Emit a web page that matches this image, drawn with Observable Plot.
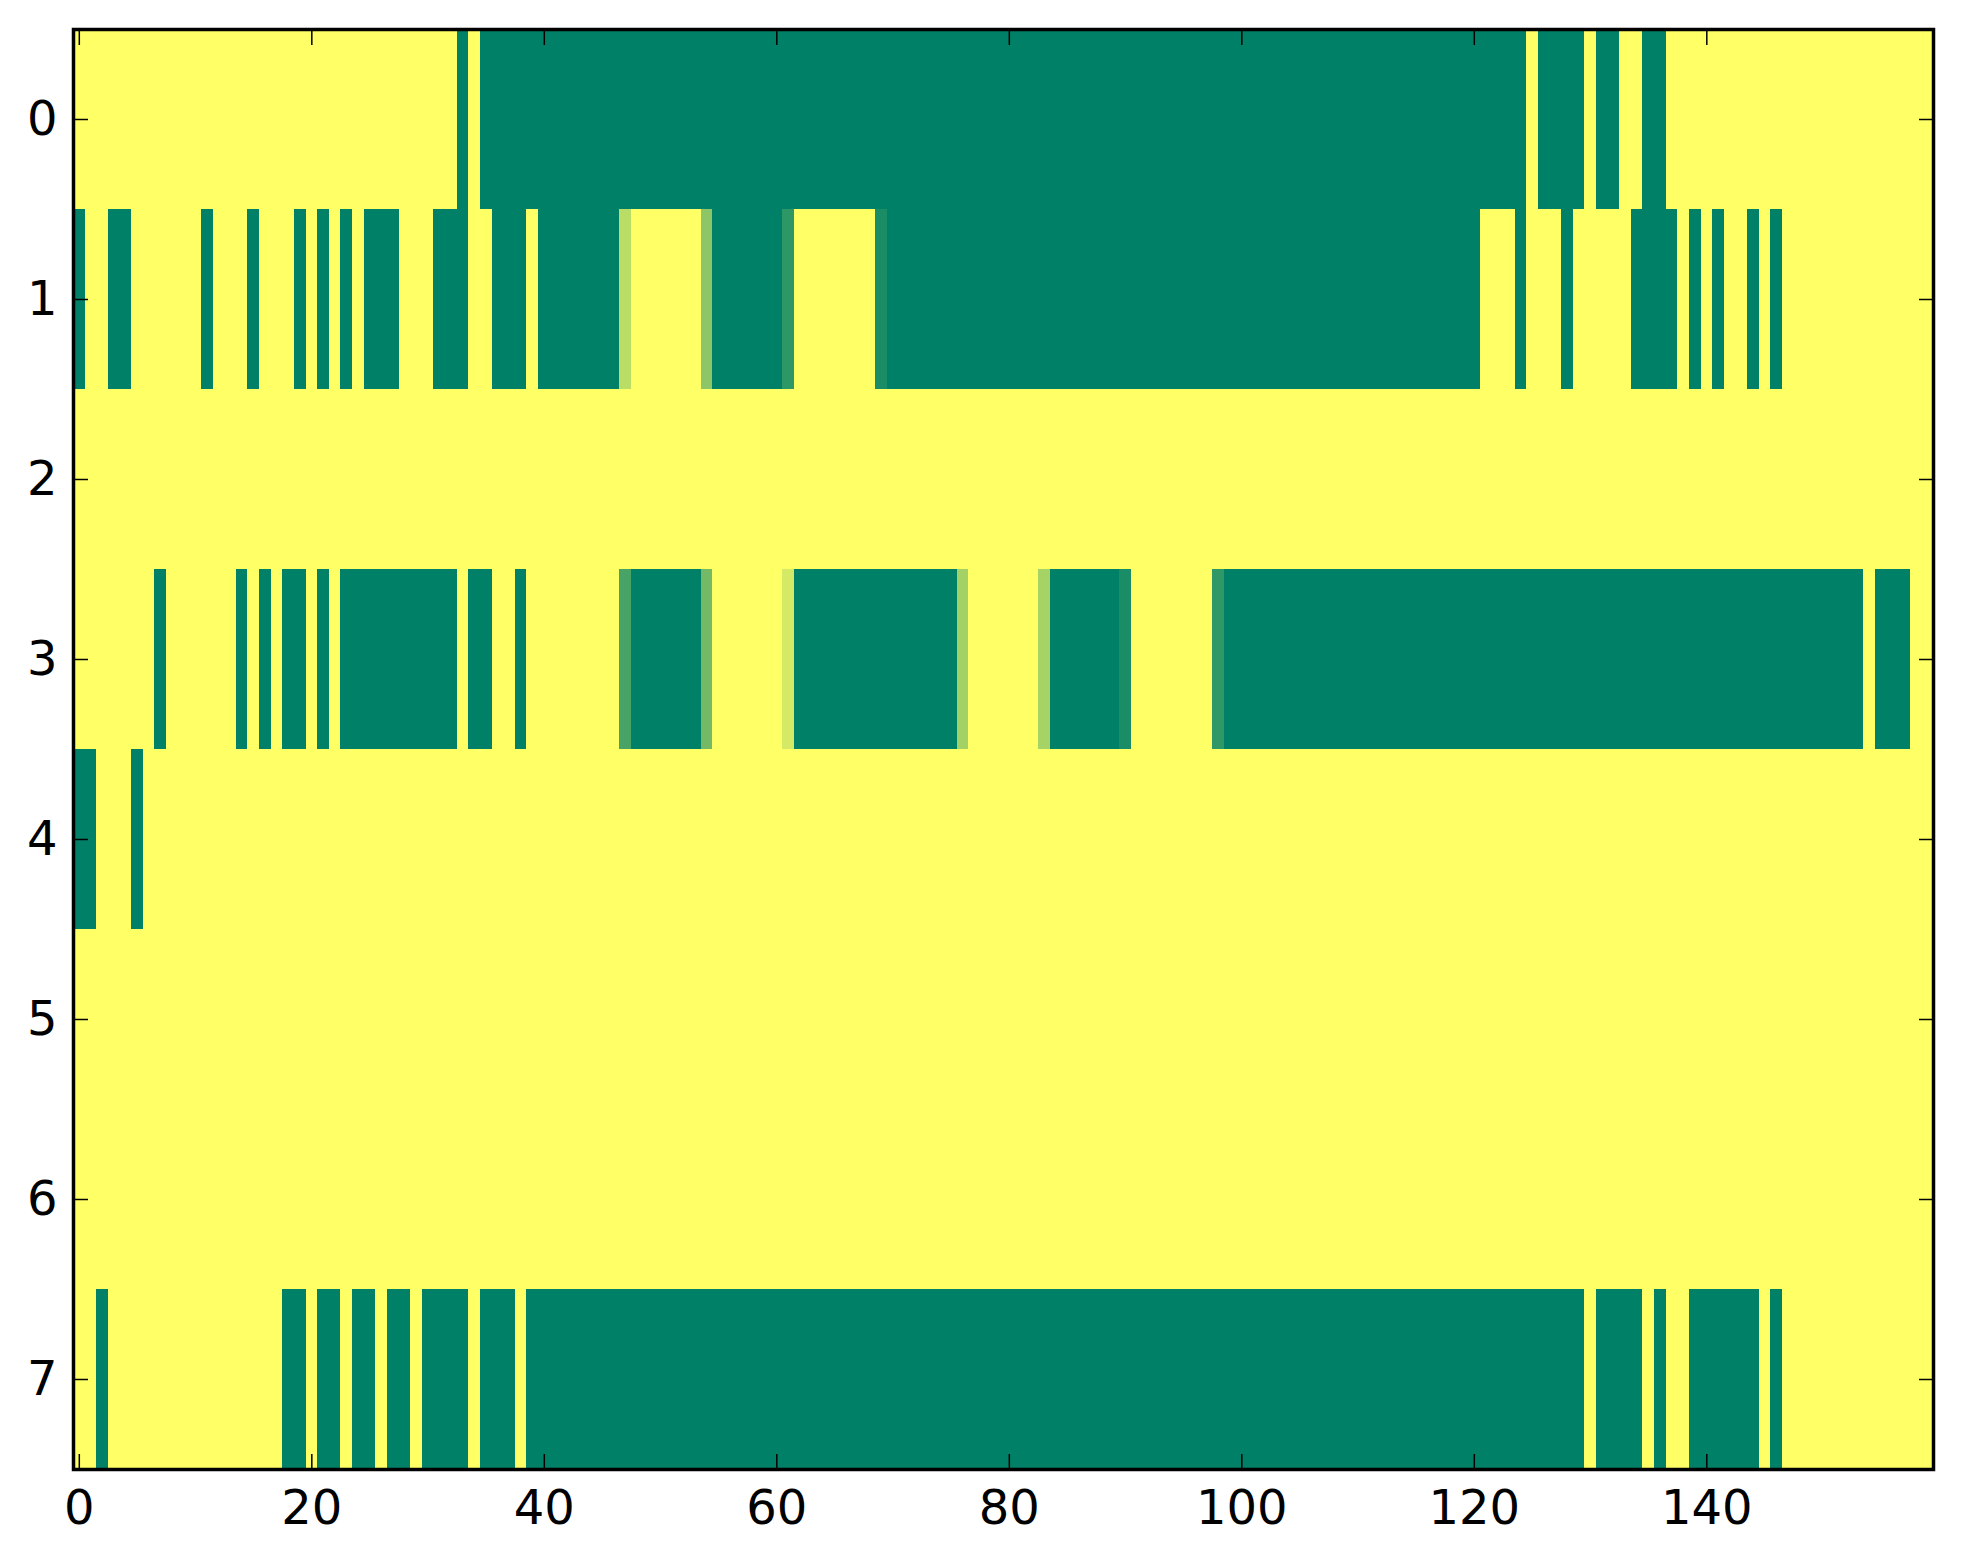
<!DOCTYPE html>
<html><head><meta charset="utf-8">
<script src="https://cdn.jsdelivr.net/npm/d3@7"></script>
<script src="https://cdn.jsdelivr.net/npm/@observablehq/plot@0.6"></script>
<style>html,body{margin:0;padding:0;background:#fff;} svg{display:block}</style>
</head><body><div id="chart"></div>
<script>
const nCols = 160;
const rowIds = [0, 1, 2, 3, 4, 5, 6, 7];
const xTicks = [0, 20, 40, 60, 80, 100, 120, 140];
const yTicks = [0, 1, 2, 3, 4, 5, 6, 7];

// Each row as runs of [value, count] read left to right (count sums to 160)
const row0 = [[1,33],[0,1],[1,1],[0,90],[1,1],[0,4],[1,1],[0,2],[1,2],[0,2],[1,23]];
const row1 = [[0,1],[1,2],[0,2],[1,6],[0,1],[1,3],[0,1],[1,3],[0,1],[1,1],[0,1],[1,1],[0,1],[1,1],
  [0,3],[1,3],[0,3],[1,2],[0,3],[1,1],[0,7],[0.73,1],[1,6],[0.55,1],[0,6],[0.18,1],[1,7],[0.1,1],
  [0,51],[1,3],[0,1],[1,3],[0,1],[1,5],[0,4],[1,1],[0,1],[1,1],[0,1],[1,2],[0,1],[1,1],[0,1],[1,13]];
const row2 = [[1,160]];
const row3 = [[1,7],[0,1],[1,6],[0,1],[1,1],[0,1],[1,1],[0,2],[1,1],[0,1],[1,1],[0,10],[1,1],[0,2],
  [1,2],[0,1],[1,8],[0.28,1],[0,6],[0.45,1],[1,6],[0.83,1],[0,14],[0.64,1],[1,6],[0.65,1],[0,6],
  [0.1,1],[1,7],[0.19,1],[0,55],[1,1],[0,3],[1,2]];
const row4 = [[0,2],[1,3],[0,1],[1,154]];
const row5 = [[1,160]];
const row6 = [[1,160]];
const row7 = [[1,2],[0,1],[1,15],[0,2],[1,1],[0,2],[1,1],[0,2],[1,1],[0,2],[1,1],[0,4],[1,1],[0,3],
  [1,1],[0,91],[1,1],[0,4],[1,1],[0,1],[1,2],[0,6],[1,1],[0,1],[1,13]];
const rows = [row0, row1, row2, row3, row4, row5, row6, row7];

const cells = [];
rows.forEach((runs, r) => {
  let c = 0;
  for (const [v, n] of runs) for (let k = 0; k < n; k++) cells.push({row: rowIds[r], col: c++, value: v});
});

const tickStyle = {tickSize: -15, fill: "none", stroke: "black", strokeWidth: 1.5, label: null};

const chart = Plot.plot({
  width: 1963, height: 1564,
  marginTop: 29, marginRight: 30, marginBottom: 95, marginLeft: 73,
  style: {fontFamily: "'DejaVu Sans', sans-serif", fontSize: "48px", background: "white", color: "black"},
  x: {type: "band", domain: d3.range(nCols), padding: 0, label: null},
  y: {type: "band", domain: rowIds, padding: 0, label: null},
  color: {type: "linear", domain: [0, 1], range: ["#008066", "#ffff66"]},
  marks: [
    Plot.cell(cells, {x: "col", y: "row", fill: "value", inset: 0, shapeRendering: "crispEdges"}),
    Plot.axisX(xTicks, {anchor: "bottom", tickSize: 0, tickPadding: 20, fontSize: 48, fill: "black", label: null}),
    Plot.axisX(xTicks, {anchor: "bottom", ...tickStyle}),
    Plot.axisX(xTicks, {anchor: "top", ...tickStyle}),
    Plot.axisY(yTicks, {anchor: "left", tickSize: 0, tickPadding: 16, fontSize: 48, fill: "black", label: null}),
    Plot.axisY(yTicks, {anchor: "left", ...tickStyle}),
    Plot.axisY(yTicks, {anchor: "right", ...tickStyle}),
    Plot.frame({stroke: "black", strokeWidth: 3.5})
  ]
});
document.getElementById("chart").appendChild(chart);
</script>
</body></html>
